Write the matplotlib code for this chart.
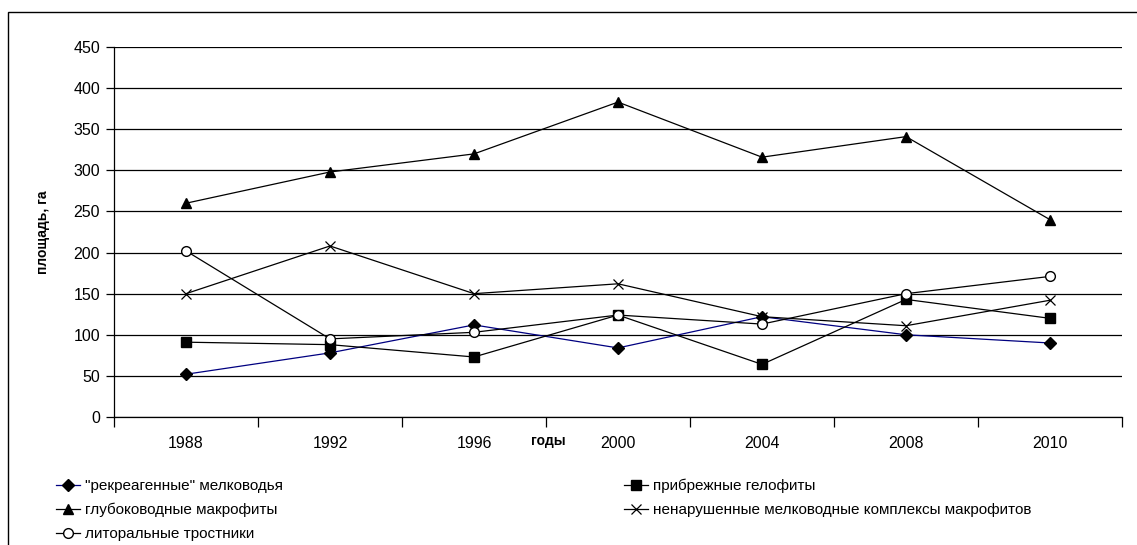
import matplotlib

matplotlib.use("Agg")
import matplotlib.pyplot as plt
from matplotlib.patches import Rectangle

plt.rcParams["font.family"] = ["Liberation Sans", "DejaVu Sans"]

years = ["1988", "1992", "1996", "2000", "2004", "2008", "2010"]

recreational = [52, 78, 112, 84, 122, 100, 90]
helophytes = [91, 88, 73, 124, 64, 143, 120]
deep_macrophytes = [260, 298, 320, 383, 316, 341, 240]
undisturbed = [150, 208, 150, 162, 122, 111, 142]
reeds = [202, 95, 103, 124, 113, 150, 171]

names = [
    '"рекреагенные" мелководья',
    "прибрежные гелофиты",
    "глубоководные макрофиты",
    "ненарушенные мелководные комплексы макрофитов",
    "литоральные тростники",
]

W, H = 1137, 545
fig = plt.figure(figsize=(W / 100, H / 100), dpi=100)
ax = fig.add_axes([114 / W, 1 - 417 / H, (1122 - 114) / W, (417 - 47) / H])

xs = range(len(years))
common = dict(lw=0.9, markersize=7, markeredgecolor="black", zorder=3)
h1, = ax.plot(xs, recreational, color="#000080", marker="D", markerfacecolor="black",
              markersize=6, lw=0.9, markeredgecolor="black", zorder=3)
h2, = ax.plot(xs, helophytes, color="black", marker="s", markerfacecolor="black", **common)
h3, = ax.plot(xs, deep_macrophytes, color="black", marker="^", markerfacecolor="black", **common)
h4, = ax.plot(xs, undisturbed, color="black", marker="x", markerfacecolor="black",
              markeredgewidth=0.9, **common)
h5, = ax.plot(xs, reeds, color="black", marker="o", markerfacecolor="white", **common)

ax.set_xlim(-0.5, len(years) - 0.5)
ax.set_ylim(0, 450)
ax.set_yticks(range(0, 451, 50))
ax.set_xticks(list(xs))
ax.set_xticklabels(years, fontsize=11.5)
ax.set_xticks([k - 0.5 for k in range(len(years) + 1)], minor=True)
ax.tick_params(axis="x", which="major", length=0, pad=14)
ax.tick_params(axis="x", which="minor", length=7, width=0.9, color="black")
ax.tick_params(axis="y", length=6, width=0.9, labelsize=11.5, pad=4)
ax.grid(axis="y", color="black", lw=0.9)
ax.set_axisbelow(True)
for s in ("top", "right"):
    ax.spines[s].set_visible(False)
for s in ("left", "bottom"):
    ax.spines[s].set_linewidth(0.9)

ax.set_ylabel("площадь, га", fontsize=10, fontweight="bold", labelpad=17)
fig.text(548 / W, 1 - 441 / H, "годы", fontsize=10, fontweight="bold",
         ha="center", va="center")

leg_font = dict(family=["Liberation Sans Narrow", "Liberation Sans", "DejaVu Sans"], size=11)
leg_kw = dict(frameon=False, handlelength=1.6, handletextpad=0.3, labelspacing=0.65,
              prop=leg_font, loc="upper left", borderaxespad=0, borderpad=0)
leg1 = fig.legend([h1, h3, h5], [names[0], names[2], names[4]],
                  bbox_to_anchor=(56 / W, 1 - 479 / H), **leg_kw)
leg2 = fig.legend([h2, h4], [names[1], names[3]],
                  bbox_to_anchor=(624 / W, 1 - 479 / H), **leg_kw)

fig.patches.append(Rectangle((8 / W, -0.1), 1.2, 1.1 - 12 / H, transform=fig.transFigure,
                             fill=False, edgecolor="black", lw=1.0))

fig.savefig("out.png", dpi=100)
